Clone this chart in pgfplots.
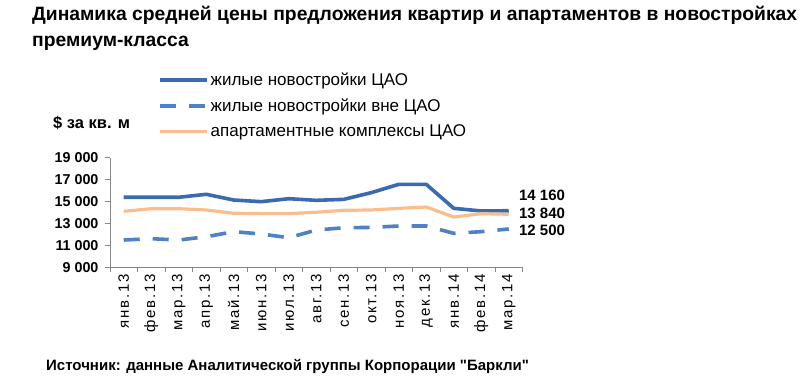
\documentclass[border=0pt]{standalone}
\usepackage{pgfplots}
\pgfplotsset{compat=1.18}
\usepackage{fontspec}
\setmainfont{Liberation Sans}[Ligatures=TeXOff]
\definecolor{cblue}{RGB}{58,106,178}
\definecolor{cdash}{RGB}{79,129,199}
\definecolor{corange}{RGB}{250,190,140}
\definecolor{caxis}{RGB}{134,134,134}
\begin{document}
\begin{tikzpicture}
\useasboundingbox (0,0) rectangle (807pt,-384pt);
\node[anchor=base west,inner sep=0,font=\bfseries\fontsize{19.3}{21}\selectfont] at (32pt,-20pt) {Динамика средней цены предложения квартир и апартаментов в новостройках};
\node[anchor=base west,inner sep=0,font=\bfseries\fontsize{19.3}{21}\selectfont] at (32pt,-46.7pt) {премиум-класса};
\node[anchor=west,inner sep=0,font=\bfseries\fontsize{16.5}{18}\selectfont] at (53pt,-122.7pt) {\$ за кв. м};
\node[anchor=base west,inner sep=0,font=\bfseries\fontsize{15}{16}\selectfont] at (46pt,-370.7pt) {Источник: данные Аналитической группы Корпорации "Баркли"};
\begin{axis}[
  scale only axis, width=412.5pt, height=109.6pt,
  at={(110pt,-267.3pt)}, anchor=south west,
  xmin=-0.5, xmax=14.5, ymin=9000, ymax=19000,
  scaled y ticks=false,
  axis lines*=left,
  axis line style={draw=caxis, line width=0.8pt},
  tick align=outside,
  major tick length=5pt, minor tick length=5pt,
  tick style={draw=caxis, line width=0.8pt},
  xtick={0,...,14},
  major x tick style={draw=none},
  minor xtick={-0.5,0.5,...,14.5},
  xticklabels={янв.13,фев.13,мар.13,апр.13,май.13,июн.13,июл.13,авг.13,сен.13,окт.13,ноя.13,дек.13,янв.14,фев.14,мар.14},
  xticklabel style={rotate=90, anchor=east, font=\fontsize{15}{17}\selectfont\addfontfeatures{LetterSpace=12}, xshift=2pt},
  ytick={9000,11000,13000,15000,17000,19000},
  yticklabels={9 000,11 000,13 000,15 000,17 000,19 000},
  yticklabel style={font=\bfseries\fontsize{14.3}{16}\selectfont, xshift=-3pt},
  clip=false,
  legend style={at={(0.116,1.795)}, anchor=north west, draw=none, fill=none,
    font=\fontsize{17}{19}\selectfont, inner sep=0pt, row sep=8pt,
    cells={anchor=west, xshift=3pt}},
  legend image code/.code={\draw[#1] (0pt,0pt) -- (47pt,0pt);},
]
\addplot[cblue, line width=3.6pt] coordinates {(0,15390)(1,15390)(2,15390)(3,15660)(4,15140)(5,14990)(6,15260)(7,15110)(8,15200)(9,15810)(10,16570)(11,16570)(12,14380)(13,14140)(14,14160)};
\addlegendentry{жилые новостройки ЦАО}
\addplot[cdash, line width=3.6pt, dash pattern=on 16pt off 13pt] coordinates {(0,11490)(1,11610)(2,11490)(3,11790)(4,12250)(5,12040)(6,11700)(7,12400)(8,12610)(9,12640)(10,12770)(11,12770)(12,12100)(13,12250)(14,12500)};
\addlegendentry{жилые новостройки вне ЦАО}
\addplot[corange, line width=3.2pt] coordinates {(0,14110)(1,14350)(2,14350)(3,14230)(4,13930)(5,13900)(6,13900)(7,14020)(8,14200)(9,14230)(10,14380)(11,14500)(12,13590)(13,13890)(14,13840)};
\addlegendentry{апартаментные комплексы ЦАО}
\node[anchor=west,inner sep=0,font=\bfseries\fontsize{15}{17}\selectfont] at (axis cs:14.37,15597) {14 160};
\node[anchor=west,inner sep=0,font=\bfseries\fontsize{15}{17}\selectfont] at (axis cs:14.37,13927) {13 840};
\node[anchor=west,inner sep=0,font=\bfseries\fontsize{15}{17}\selectfont] at (axis cs:14.37,12403) {12 500};
\end{axis}
\end{tikzpicture}
\end{document}
